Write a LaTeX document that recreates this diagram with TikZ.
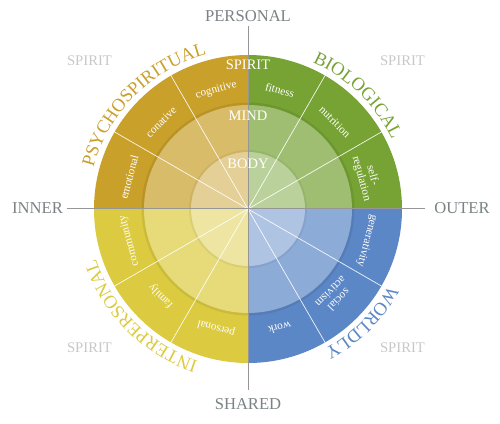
\documentclass[tikz,border=0pt]{standalone}
\usepackage{xcolor}
\usepackage{fontspec}
\setmainfont{Liberation Serif}
\usetikzlibrary{decorations.text}

\definecolor{psyC}{RGB}{201,160,42}
\definecolor{bioC}{RGB}{118,163,52}
\definecolor{intC}{RGB}{220,203,64}
\definecolor{worC}{RGB}{92,135,198}
\definecolor{axisC}{RGB}{122,130,132}
\definecolor{lineC}{RGB}{150,150,150}
\definecolor{spiritC}{RGB}{200,200,200}

\begin{document}
\begin{tikzpicture}[x=1pt, y=1pt,
    ringlab/.style={text=white, font=\fontsize{14.5}{15}\selectfont},
    sectorlab/.style={text=white, font=\fontsize{11.3}{11.5}\selectfont, align=center, inner sep=0pt},
    axislab/.style={text=axisC, font=\fontsize{16.6}{17}\selectfont, inner sep=2pt},
    cornerlab/.style={text=spiritC, font=\fontsize{14.7}{15}\selectfont},
    axisline/.style={draw=lineC, line width=0.9pt},
    spoke/.style={white, line width=0.7pt, opacity=0.9},
    quadname/.style={decorate, decoration={text along path, text align=center, text={#1}}},
]
\useasboundingbox (-248,-214) rectangle (252,209);

% quadrants
\fill[psyC] (0,0) -- (90:154) arc[start angle=90, end angle=180, radius=154] -- cycle;
\fill[bioC] (0,0) -- (0:154) arc[start angle=0, end angle=90, radius=154] -- cycle;
\fill[intC] (0,0) -- (180:154) arc[start angle=180, end angle=270, radius=154] -- cycle;
\fill[worC] (0,0) -- (270:154) arc[start angle=270, end angle=360, radius=154] -- cycle;

% rings
\draw[black, opacity=0.08, line width=2.5pt] (0,0) circle (105.2);
\fill[white, opacity=0.3] (0,0) circle (104);
\draw[black, opacity=0.05, line width=2pt] (0,0) circle (58);
\fill[white, opacity=0.3] (0,0) circle (57);

\foreach \a in {30,60,120,150,210,240,300,330}
    \draw[spoke] (0,0) -- (\a:154);

% axes
\node[axislab] (personal) at (0,193) {PERSONAL};
\node[axislab] (shared) at (0,-195) {SHARED};
\node[axislab] (inner) at (-210.5,1) {INNER};
\node[axislab] (outer) at (214,1) {OUTER};
\draw[axisline, shorten <=2pt, shorten >=6pt] (personal.south) -- (shared.north);
\draw[axisline, shorten <=2pt, shorten >=7pt] (inner.east) -- (outer.west);

\node[ringlab] (spirit) at (0,144) {SPIRIT};
\node[ringlab] (mind) at (0,93) {MIND};
\node[ringlab] (body) at (0,45) {BODY};

\foreach \a/\txt/\nm in {105/cognitive/cog, 135/conative/con, 165/emotional/emo,
    75/fitness/fit, 45/nutrition/nut, 15/{self-\\regulation}/sreg,
    195/community/com, 225/family/fam, 255/personal/per,
    285/work/wrk, 315/{social\\activism}/soc, 345/generativity/gen}
    \node[sectorlab, rotate=\a-90] (sec-\nm) at (\a:123) {\txt};

\node[cornerlab] (spirit-nw) at (-158.5,148) {SPIRIT};
\node[cornerlab] (spirit-ne) at (154.5,148) {SPIRIT};
\node[cornerlab] (spirit-sw) at (-158.5,-139) {SPIRIT};
\node[cornerlab] (spirit-se) at (154.5,-139) {SPIRIT};

% quadrant names
\path[quadname={|\fontsize{18.5}{18.5}\selectfont\color{psyC}|PSYCHOSPIRITUAL}]
    (180:160) arc[start angle=180, end angle=90, radius=160];
\path[quadname={|\fontsize{18.5}{18.5}\selectfont\color{bioC}|BIOLOGICAL}]
    (91:160) arc[start angle=91, end angle=1, radius=160];
\path[quadname={|\fontsize{18.5}{18.5}\selectfont\color{intC}|INTERPERSONAL}]
    (270:160) arc[start angle=270, end angle=180, radius=160];
\path[quadname={|\fontsize{18.5}{18.5}\selectfont\color{worC}|WORLDLY}]
    (360:160) arc[start angle=360, end angle=270, radius=160];
\end{tikzpicture}
\end{document}
